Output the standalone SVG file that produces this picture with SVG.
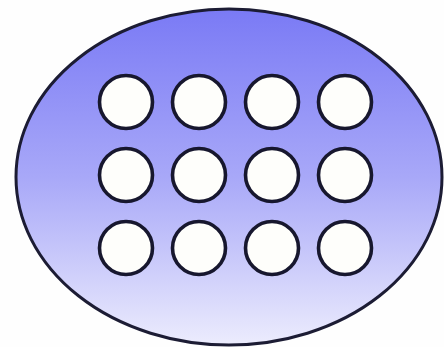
<svg xmlns="http://www.w3.org/2000/svg" width="444" height="347" viewBox="0 0 444 347">
<defs>
<linearGradient id="g" x1="0" y1="0" x2="0" y2="1">
<stop offset="0" stop-color="#7a7af5"/>
<stop offset="0.5" stop-color="#a8a8f8"/>
<stop offset="1" stop-color="#ececfd"/>
</linearGradient>
<style>
.c{fill:#fefefb;stroke:#17172e;stroke-width:3.6}
</style>
</defs>
<rect width="444" height="347" fill="#fefefe"/>
<g id="body"><ellipse cx="229" cy="177" rx="213" ry="168" fill="url(#g)" stroke="#1c1c34" stroke-width="3"/></g>
<g id="n1"><circle class="c" cx="126" cy="102" r="26.5"/></g>
<g id="n2"><circle class="c" cx="199" cy="102" r="26.5"/></g>
<g id="n3"><circle class="c" cx="272" cy="102" r="26.5"/></g>
<g id="n4"><circle class="c" cx="345" cy="102" r="26.5"/></g>
<g id="n5"><circle class="c" cx="126" cy="175" r="26.5"/></g>
<g id="n6"><circle class="c" cx="199" cy="175" r="26.5"/></g>
<g id="n7"><circle class="c" cx="272" cy="175" r="26.5"/></g>
<g id="n8"><circle class="c" cx="345" cy="175" r="26.5"/></g>
<g id="n9"><circle class="c" cx="126" cy="248" r="26.5"/></g>
<g id="n10"><circle class="c" cx="199" cy="248" r="26.5"/></g>
<g id="n11"><circle class="c" cx="272" cy="248" r="26.5"/></g>
<g id="n12"><circle class="c" cx="345" cy="248" r="26.5"/></g>
<g id="connectors"/>
</svg>
